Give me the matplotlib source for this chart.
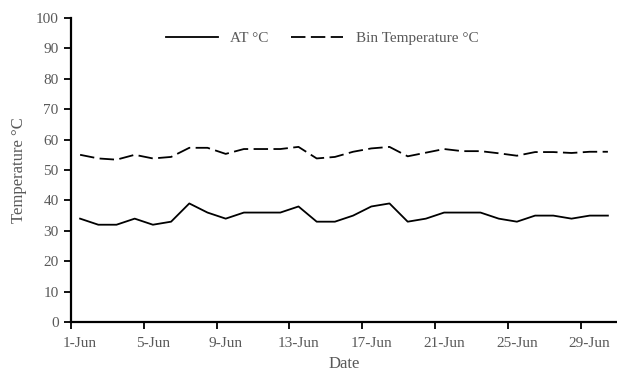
import numpy as np
import matplotlib.pyplot as plt
from matplotlib.ticker import FixedLocator, NullFormatter

days = [f"{d}-Jun" for d in range(1, 31)]
at_temp = [34, 32, 32, 34, 32, 33, 39, 36, 34, 36, 36, 36, 38, 33, 33,
           35, 38, 39, 33, 34, 36, 36, 36, 34, 33, 35, 35, 34, 35, 35]
bin_temp = [55.0, 53.8, 53.4, 55.0, 53.8, 54.3, 57.3, 57.3, 55.3, 56.9,
            56.9, 56.9, 57.6, 53.8, 54.3, 56.0, 57.1, 57.6, 54.5, 55.7,
            56.9, 56.2, 56.2, 55.5, 54.7, 55.9, 55.9, 55.6, 56.0, 56.0]

plt.rcParams['font.family'] = ['Liberation Serif', 'DejaVu Serif']
grey = '#595959'

fig = plt.figure(figsize=(6.17, 3.73), dpi=100)
ax = fig.add_axes([71 / 617, 51 / 373, 546 / 617, 304 / 373])

x = np.arange(len(days))
ax.plot(x, at_temp, color='black', lw=1.3, label='AT °C')
ax.plot(x, bin_temp, color='black', lw=1.3, dashes=(8, 3),
        label='Bin Temperature °C')

ax.set_xlim(-0.5, len(days) - 0.5)
ax.set_ylim(0, 100)
ax.set_yticks(range(0, 101, 10))

# labels on every 4th day, ticks between categories
ax.set_xticks(x[::4])
ax.set_xticklabels(days[::4])
ax.tick_params(axis='x', which='major', length=0, pad=11)
ax.xaxis.set_minor_locator(FixedLocator(np.arange(-0.5, len(days), 4)))
ax.xaxis.set_minor_formatter(NullFormatter())
ax.tick_params(axis='x', which='minor', length=5, width=1.3, direction='out')
ax.tick_params(axis='y', length=5, width=1.3, direction='out', pad=4)
ax.tick_params(labelsize=11, labelcolor=grey)

for s in ['top', 'right']:
    ax.spines[s].set_visible(False)
for s in ['left', 'bottom']:
    ax.spines[s].set_linewidth(1.6)

ax.set_xlabel('Date', fontsize=12, color=grey, labelpad=4)
ax.set_ylabel('Temperature °C', fontsize=12, color=grey, labelpad=6)

leg = ax.legend(loc='upper center', bbox_to_anchor=(0.46, 1.0), ncol=2,
                frameon=False, fontsize=11, handlelength=3.4, columnspacing=1.5)
for t in leg.get_texts():
    t.set_color(grey)

fig.savefig('out.png', dpi=100)
